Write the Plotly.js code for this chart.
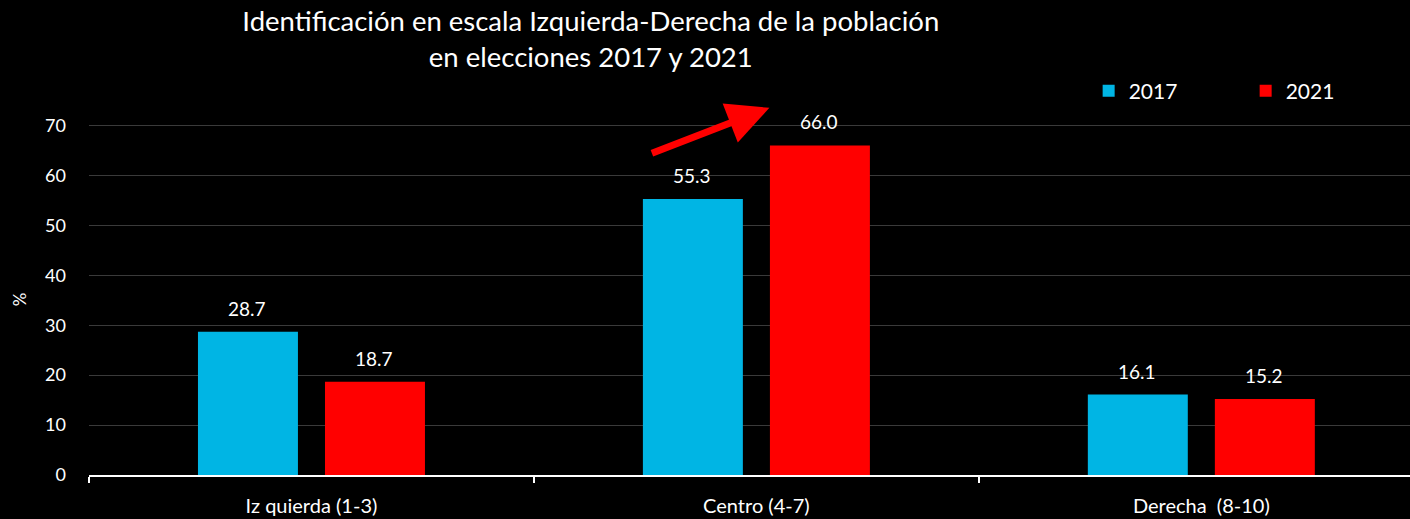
<!DOCTYPE html>
<html><head><meta charset="utf-8">
<script src="https://cdn.plot.ly/plotly-3.0.1.min.js"></script>
<style>html,body{margin:0;padding:0;background:#000;}#chart{width:1410px;height:519px;}</style>
</head><body><div id="chart"></div>
<script>
const categories = ["Izquierda (1-3)", "Centro (4-7)", "Derecha (8-10)"];
const tickLabels = ["Iz quierda (1-3)", "Centro (4-7)", "Derecha  (8-10)"];
const values2017 = [28.7, 55.3, 16.1];
const values2021 = [18.7, 66.0, 15.2];
const seriesNames = ["2017", "2021"];
const FONT = "Lato, 'Open Sans', sans-serif";
const BLUE = "#00B5E4", RED = "#FF0000";

const traces = [
  {type:"bar", name:seriesNames[0], x:categories, y:values2017, marker:{color:BLUE}, hoverinfo:"none"},
  {type:"bar", name:seriesNames[1], x:categories, y:values2021, marker:{color:RED}, hoverinfo:"none"}
];

const annotations = [];
[values2017, values2021].forEach((vals, s) => {
  vals.forEach((v, i) => {
    annotations.push({xref:"x", yref:"y", x:categories[i], y:v, xshift: s===0 ? -64 : 63,
      yanchor:"bottom", yshift:10, showarrow:false, text:v.toFixed(1),
      font:{family:FONT, size:19, color:"#fff"}});
  });
});
// red arrow (tip above the plot area, so paper reference for y)
annotations.push({xref:"x", yref:"paper", x:1, y:1.046, xshift:13, ax:-119, ay:46,
  showarrow:true, arrowcolor:RED, arrowwidth:7, arrowhead:2, arrowsize:1.2, text:""});

const layout = {
  width:1410, height:519,
  paper_bgcolor:"#000", plot_bgcolor:"#000",
  margin:{l:89, r:0, t:124, b:44, autoexpand:false},
  font:{family:FONT, color:"#fff"},
  title:{text:"Identificación en escala Izquierda-Derecha de la población<br>en elecciones 2017 y 2021",
    x:0.419, xanchor:"center", y:0.94, yanchor:"middle", font:{family:FONT, size:27.5, color:"#fff"}},
  barmode:"group", bargap:0.429, bargroupgap:0.213,
  showlegend:true,
  legend:{orientation:"h", x:1067/1410, xref:"paper", xanchor:"left", y:1.094, yanchor:"middle",
    font:{family:FONT, size:21, color:"#fff"},
    bgcolor:"rgba(0,0,0,0)", entrywidth:112, entrywidthmode:"pixels", itemwidth:30},
  xaxis:{type:"category", range:[-0.5, 2.469], showline:true, linecolor:"#fff", linewidth:2,
    ticks:"outside", tickson:"boundaries", ticklen:6, tickcolor:"#fff", tickwidth:2,
    tickvals:categories, ticktext:tickLabels, ticklabelstandoff:12,
    tickfont:{family:FONT, size:20, color:"#fff"}, showgrid:false, fixedrange:true},
  yaxis:{range:[0,70.3], dtick:10, showgrid:true, gridcolor:"#3a3a3a", gridwidth:1, zeroline:false,
    tickfont:{family:FONT, size:18, color:"#fff"}, ticks:"", ticklabelstandoff:22,
    title:{text:"%", font:{family:FONT, size:17, color:"#fff"}, standoff:14}},
  annotations:annotations
};
Plotly.newPlot("chart", traces, layout, {staticPlot:true});
</script></body></html>
